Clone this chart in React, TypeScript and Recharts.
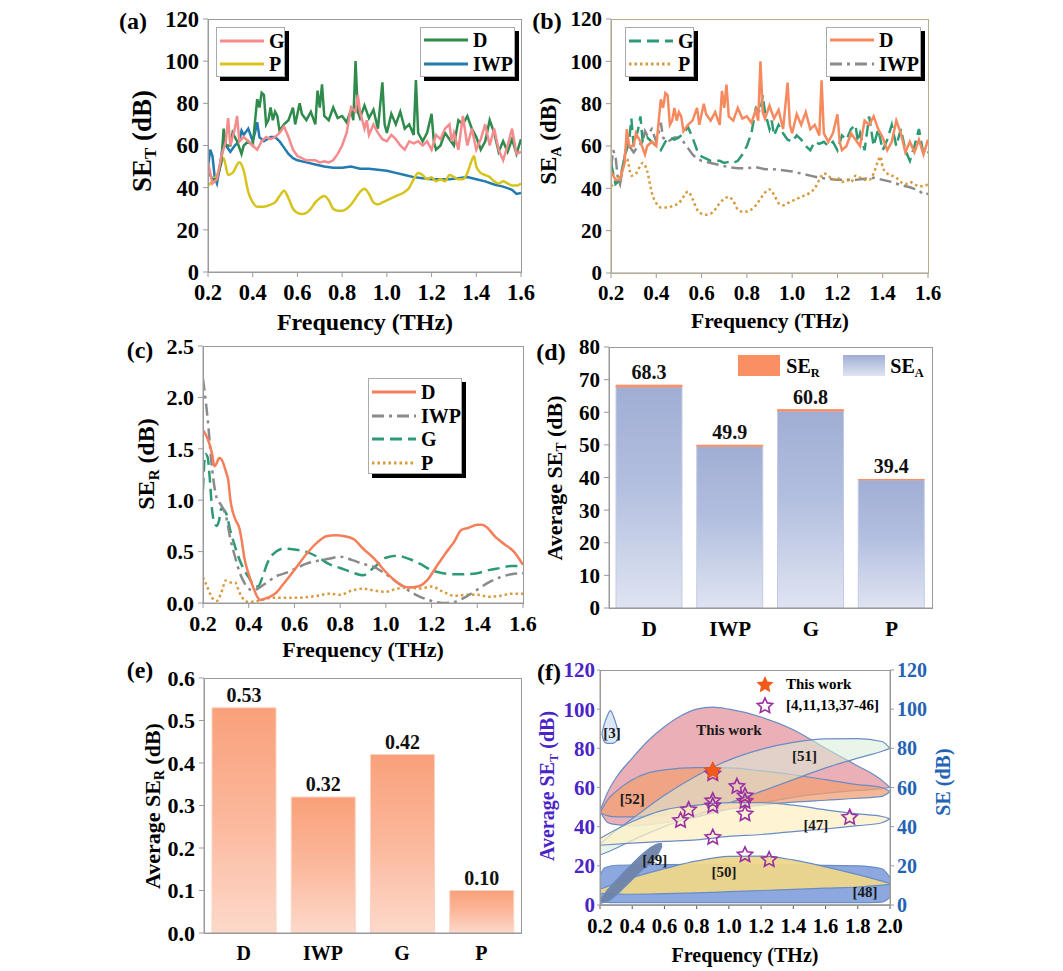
import React from 'react';
import {
  LineChart, Line, XAxis, YAxis, BarChart, Bar, LabelList,
  ComposedChart, Area, Scatter, ReferenceDot,
} from 'recharts';

const FONT = "'Liberation Serif', 'Times New Roman', Times, serif";

type P = [number, number];
type R = [number, number, number];

// ---------- (a)/(b) SE_T and SE_A spectra: [frequency THz, dB] ----------
const D_T: P[] = [[0.2,48],[0.22,44],[0.24,44],[0.26,52],[0.27,68],[0.28,60],[0.3,60],[0.31,66],[0.33,62],[0.35,56],[0.36,60],[0.38,62],[0.4,60],[0.42,82],[0.43,78],[0.44,85],[0.45,84],[0.46,70],[0.47,72],[0.48,78],[0.49,72],[0.5,76],[0.51,74],[0.52,67],[0.54,70],[0.56,72],[0.58,78],[0.59,70],[0.61,80],[0.62,75],[0.64,72],[0.66,76],[0.68,70],[0.69,86],[0.7,78],[0.71,89],[0.72,74],[0.74,72],[0.76,78],[0.78,73],[0.8,74],[0.82,71],[0.84,77],[0.85,72],[0.86,100],[0.87,76],[0.88,73],[0.9,79],[0.92,73],[0.94,77],[0.96,68],[0.98,90],[0.99,70],[1.0,66],[1.02,75],[1.04,70],[1.06,76],[1.08,68],[1.1,70],[1.12,65],[1.13,91],[1.14,66],[1.16,62],[1.18,66],[1.2,75],[1.21,62],[1.22,58],[1.24,60],[1.26,66],[1.28,63],[1.3,60],[1.32,72],[1.34,70],[1.36,74],[1.38,68],[1.4,64],[1.42,58],[1.44,62],[1.46,72],[1.48,66],[1.5,57],[1.52,62],[1.54,57],[1.56,63],[1.58,56],[1.6,63]];
const G_T: P[] = [[0.2,52],[0.22,42],[0.24,44],[0.26,55],[0.28,62],[0.29,73],[0.3,60],[0.32,68],[0.33,74],[0.34,62],[0.36,64],[0.38,62],[0.4,60],[0.42,58],[0.44,62],[0.46,64],[0.48,63],[0.5,64],[0.52,66],[0.54,69],[0.56,64],[0.58,58],[0.6,55],[0.62,54],[0.64,53],[0.66,53],[0.68,53],[0.7,52],[0.72,52.5],[0.74,52],[0.76,53],[0.78,56],[0.8,60],[0.82,66],[0.84,78],[0.86,76],[0.87,84],[0.88,76],[0.9,68],[0.91,72],[0.92,65],[0.94,70],[0.96,66],[0.98,63],[1.0,62],[1.02,65],[1.04,63],[1.06,60],[1.08,58],[1.1,62],[1.12,61],[1.14,62],[1.16,60],[1.18,62],[1.2,58],[1.22,65],[1.24,63],[1.26,68],[1.28,70],[1.29,62],[1.3,66],[1.32,58],[1.34,74],[1.36,60],[1.38,68],[1.4,58],[1.42,63],[1.44,70],[1.46,60],[1.48,68],[1.5,58],[1.52,53],[1.54,60],[1.56,68],[1.58,56],[1.6,57]];
const P_T: P[] = [[0.2,41],[0.22,43],[0.24,46],[0.27,54],[0.29,46],[0.31,47],[0.34,52],[0.36,48],[0.38,38],[0.4,33],[0.42,31],[0.45,31],[0.48,32],[0.5,33],[0.52,36],[0.54,38.5],[0.56,35],[0.58,30],[0.6,28],[0.62,27.5],[0.64,28],[0.66,30],[0.68,33],[0.7,35],[0.72,36],[0.74,34],[0.76,30],[0.78,29],[0.8,29],[0.82,30],[0.84,32],[0.86,35],[0.88,38],[0.9,39.5],[0.92,37],[0.94,33],[0.96,32],[0.98,33],[1.0,34],[1.04,36],[1.08,38],[1.1,40],[1.12,44],[1.14,47],[1.16,46],[1.18,44],[1.2,45],[1.22,43],[1.24,44],[1.26,43],[1.28,46],[1.3,45],[1.32,44],[1.34,44],[1.36,47],[1.38,53],[1.39,55],[1.4,50],[1.42,47],[1.44,46],[1.46,45],[1.48,43],[1.5,42],[1.52,43],[1.54,42],[1.56,41],[1.58,41],[1.6,42]];
const IWP_T: P[] = [[0.2,50],[0.21,58],[0.22,55],[0.23,45],[0.24,42],[0.25,48],[0.26,55],[0.27,62],[0.28,60],[0.3,57],[0.32,60],[0.34,62],[0.35,67],[0.36,65],[0.38,68],[0.4,62],[0.41,66],[0.42,71],[0.43,64],[0.45,62],[0.48,64],[0.5,64],[0.52,62],[0.54,59],[0.56,56],[0.58,54],[0.6,53],[0.64,52],[0.68,51],[0.72,50],[0.76,49.5],[0.8,49.5],[0.84,50],[0.88,49],[0.92,49],[0.96,48.5],[1.0,48],[1.04,47],[1.08,46],[1.12,45],[1.16,44.5],[1.2,44],[1.24,44],[1.28,44],[1.32,44.5],[1.36,45],[1.4,44],[1.44,43],[1.48,41.5],[1.52,40.5],[1.56,39],[1.58,37],[1.6,37.5]];

// ---------- (c) SE_R spectra ----------
const D_R: P[] = [[0.2,1.68],[0.22,1.6],[0.24,1.45],[0.25,1.33],[0.26,1.36],[0.27,1.41],[0.28,1.4],[0.3,1.28],[0.31,1.2],[0.32,1.0],[0.34,0.82],[0.36,0.72],[0.37,0.6],[0.38,0.45],[0.4,0.28],[0.42,0.15],[0.44,0.05],[0.45,0.03],[0.48,0.05],[0.5,0.07],[0.52,0.1],[0.55,0.18],[0.6,0.32],[0.65,0.47],[0.7,0.59],[0.74,0.65],[0.78,0.66],[0.82,0.65],[0.86,0.62],[0.9,0.53],[0.95,0.43],[1.0,0.3],[1.05,0.2],[1.1,0.15],[1.14,0.16],[1.18,0.22],[1.22,0.35],[1.26,0.48],[1.3,0.6],[1.33,0.71],[1.36,0.73],[1.4,0.76],[1.42,0.76],[1.44,0.74],[1.48,0.64],[1.52,0.57],[1.56,0.5],[1.6,0.37]];
const IWP_R: P[] = [[0.2,2.18],[0.22,1.8],[0.24,1.3],[0.26,1.02],[0.28,0.95],[0.3,0.85],[0.32,0.62],[0.34,0.45],[0.36,0.3],[0.38,0.2],[0.4,0.14],[0.42,0.12],[0.44,0.14],[0.48,0.2],[0.52,0.26],[0.56,0.29],[0.6,0.33],[0.65,0.38],[0.7,0.41],[0.75,0.43],[0.8,0.45],[0.85,0.42],[0.9,0.38],[0.95,0.35],[1.0,0.28],[1.05,0.2],[1.1,0.12],[1.15,0.06],[1.2,0.02],[1.25,0.0],[1.3,0.01],[1.35,0.06],[1.4,0.13],[1.45,0.2],[1.5,0.25],[1.55,0.28],[1.6,0.29]];
const G_R: P[] = [[0.2,1.1],[0.21,1.45],[0.22,1.42],[0.23,1.2],[0.24,0.9],[0.25,0.78],[0.26,0.75],[0.27,0.8],[0.28,0.92],[0.3,0.88],[0.32,0.7],[0.34,0.55],[0.36,0.42],[0.38,0.32],[0.4,0.25],[0.42,0.18],[0.44,0.16],[0.46,0.25],[0.48,0.38],[0.5,0.46],[0.52,0.5],[0.55,0.53],[0.6,0.52],[0.65,0.5],[0.7,0.45],[0.75,0.38],[0.8,0.34],[0.85,0.3],[0.9,0.27],[0.95,0.35],[1.0,0.44],[1.05,0.46],[1.1,0.43],[1.15,0.38],[1.2,0.32],[1.25,0.29],[1.3,0.28],[1.35,0.28],[1.4,0.29],[1.45,0.32],[1.5,0.34],[1.55,0.36],[1.6,0.36]];
const P_R: P[] = [[0.2,0.25],[0.22,0.15],[0.24,0.05],[0.26,0.02],[0.28,0.1],[0.3,0.22],[0.32,0.2],[0.34,0.2],[0.36,0.1],[0.38,0.03],[0.4,0.01],[0.44,0.02],[0.5,0.05],[0.6,0.05],[0.7,0.07],[0.75,0.09],[0.8,0.08],[0.85,0.12],[0.9,0.14],[0.95,0.12],[1.0,0.11],[1.05,0.14],[1.1,0.15],[1.15,0.14],[1.2,0.16],[1.25,0.11],[1.3,0.07],[1.35,0.08],[1.4,0.08],[1.45,0.06],[1.5,0.07],[1.55,0.09],[1.6,0.09]];

// ---------- (d)/(e) averages ----------
const CATS = ['D', 'IWP', 'G', 'P'];
const SET_AVG = [68.3, 49.9, 60.8, 39.4];
const SER_AVG = [0.53, 0.32, 0.42, 0.10];
const SEA_AVG = [67.77, 49.58, 60.38, 39.3];

// ---------- (f) comparison regions: [frequency, low, high] ----------
const REG_THIS: R[] = [[0.2,48,48],[0.25,42,58],[0.3,41,65],[0.4,40.5,75],[0.5,41,84],[0.6,42,91],[0.7,43.5,96.5],[0.8,45,100],[0.9,47,101],[1.0,49,100],[1.2,52,96],[1.4,55,89.5],[1.6,57,80],[1.8,58.5,71],[1.9,59,66.5],[1.96,59.5,63],[2.0,60,60]];
const REG_52: R[] = [[0.2,47,47],[0.25,45.5,54],[0.3,45,58],[0.4,45,64],[0.5,45.5,67.5],[0.6,46,69],[0.8,47.5,70.2],[1.0,49,70],[1.2,51,68.5],[1.4,52.5,66.5],[1.6,53.5,64],[1.8,54.5,61.5],[1.95,55.5,60],[2.0,58,58]];
const REG_51: R[] = [[0.2,25.5,31],[0.3,29,38],[0.4,33,44],[0.6,40,56],[0.8,46,66],[1.0,52,74],[1.2,58,79.5],[1.4,64,83],[1.6,70,84.8],[1.8,75,85],[1.95,78.5,83.5],[2.0,80,80]];
const REG_47: R[] = [[0.2,30.5,34],[0.4,31.6,42.6],[0.6,32.5,48.6],[0.8,33.3,51],[1.0,35,52.3],[1.2,36,52.3],[1.4,37.5,51],[1.6,38.8,48.6],[1.8,40.5,46.5],[1.95,42,45.2],[2.0,44,44]];
const REG_48: R[] = [[0.2,3,15],[0.23,1.5,19],[0.3,1.2,20.3],[0.6,1.2,20.6],[1.0,1.2,20.8],[1.4,1.2,20.5],[1.8,1.2,20],[1.95,1.5,18.5],[2.0,4,14]];
const REG_50: R[] = [[0.2,6,8],[0.4,5.5,14],[0.6,5.8,18.5],[0.8,6.2,22.5],[1.0,6.8,24.8],[1.2,7.4,25],[1.4,8,23],[1.6,8.6,19.5],[1.8,9.2,15.5],[2.0,10.5,11]];
const REG_49: R[] = [[0.2,0.8,2.5],[0.25,2,8],[0.3,5,12.5],[0.35,9,17],[0.4,13,21],[0.45,17,25],[0.5,20.5,28.5],[0.55,24.5,31],[0.585,30,31.5]];
const REG_3: R[] = [[0.212,87.5,87.5],[0.225,83.5,92],[0.245,82.5,96.5],[0.265,82.5,99.3],[0.285,82.7,96],[0.305,84,91],[0.318,87.5,87.5]];
const STARS_OTHERS: P[] = [[0.7,43.1],[0.75,48.6],[0.9,67],[0.9,53.2],[0.9,50.6],[0.9,34.5],[1.05,60.5],[1.1,55.7],[1.1,52.9],[1.1,46.5],[1.1,25.6],[1.25,23.1],[1.75,44.7]];
const STAR_THIS: P[] = [[0.9,68.5]];
const REGION_LABELS: { t: string; f: number; v: number }[] = [
  { t: 'This work', f: 1.0, v: 89.5 }, { t: '[3]', f: 0.275, v: 88 }, { t: '[52]', f: 0.4, v: 54.5 },
  { t: '[51]', f: 1.47, v: 76 }, { t: '[47]', f: 1.54, v: 41 }, { t: '[49]', f: 0.54, v: 23 },
  { t: '[50]', f: 0.97, v: 17 }, { t: '[48]', f: 1.845, v: 7 },
];

const F_TICKS = [0.2, 0.4, 0.6, 0.8, 1.0, 1.2, 1.4, 1.6];
const F2_TICKS = [0.2, 0.4, 0.6, 0.8, 1.0, 1.2, 1.4, 1.6, 1.8, 2.0];
const SE_TICKS = [0, 20, 40, 60, 80, 100, 120];
const SER_TICKS = [0, 0.5, 1.0, 1.5, 2.0, 2.5];
const AVG_T_TICKS = [0, 10, 20, 30, 40, 50, 60, 70, 80];
const AVG_R_TICKS = [0, 0.1, 0.2, 0.3, 0.4, 0.5, 0.6];

const pts = (a: P[]) => a.map(([f, v]) => ({ f, v }));
const rng = (a: R[]) => a.map(([f, lo, hi]) => ({ f, r: [lo, hi] }));

// ---------- helpers ----------
const Txt = ({ x, y, size, children, rot = false, color = '#000' }: any) => (
  <div style={{ position: 'absolute', left: x, top: y, transform: `translate(-50%, -50%)${rot ? ' rotate(-90deg)' : ''}`, fontSize: size, fontWeight: 700, color, whiteSpace: 'nowrap', lineHeight: 1, fontFamily: FONT }}>{children}</div>
);
const Sub = ({ c }: any) => <span style={{ fontSize: '0.62em', position: 'relative', top: '0.32em' }}>{c}</span>;
const Frame = ({ L, T, W, H, color = '#9a9a9a' }: any) => (
  <div style={{ position: 'absolute', left: L, top: T, width: W + 1, height: H + 1, border: `1px solid ${color}`, boxSizing: 'border-box', pointerEvents: 'none' }} />
);
const LegendBox = ({ x, y, w, h, rows, rowY, lineW = 44 }: any) => (
  <div style={{ position: 'absolute', left: x, top: y, width: w, height: h, border: '1px solid #aaa', background: '#fff', boxShadow: '4px 4px 0 #000', boxSizing: 'border-box' }}>
    {rows.map((r: any, i: number) => (
      <div key={i} style={{ position: 'absolute', left: 3, top: rowY[i], transform: 'translateY(-50%)', display: 'flex', alignItems: 'center', gap: 5 }}>
        <svg width={lineW} height={8}><line x1={0} y1={4} x2={lineW} y2={4} stroke={r.color} strokeWidth={3} strokeDasharray={r.dash} /></svg>
        <span style={{ fontSize: 20, fontWeight: 700, fontFamily: FONT, lineHeight: 1 }}>{r.name}</span>
      </div>
    ))}
  </div>
);

const tickStyle = (size: number, fill = '#000') => ({ fill, fontSize: size, fontWeight: 700, fontFamily: FONT });
const AX = { stroke: '#9a9a9a' };

function LinePanel({ L, T, W, H, yMax, yTicks, yFmt, tick, series }: any) {
  const YW = 90, MT = 15, MR = 20, XH = 50;
  return (
    <div style={{ position: 'absolute', left: L - YW, top: T - MT }}>
      <LineChart width={W + YW + MR} height={H + MT + XH} margin={{ top: MT, right: MR, left: 0, bottom: 0 }}>
        <XAxis type="number" dataKey="f" domain={[0.2, 1.6]} ticks={F_TICKS} interval={0} allowDataOverflow
          tickFormatter={(v: number) => v.toFixed(1)} height={XH} tickSize={5} tickMargin={7}
          axisLine={AX} tickLine={AX} tick={tickStyle(tick)} />
        <YAxis type="number" domain={[0, yMax]} ticks={yTicks} interval={0} allowDataOverflow width={YW}
          tickFormatter={yFmt} tickSize={5} tickMargin={4} axisLine={AX} tickLine={AX} tick={tickStyle(tick)} />
        {series.map((s: any) => (
          <Line key={s.name} data={s.data} dataKey="v" type={s.type} stroke={s.color} strokeWidth={2.5}
            strokeDasharray={s.dash} dot={false} activeDot={false} isAnimationActive={false} />
        ))}
      </LineChart>
    </div>
  );
}

function BarPanel({ L, T, W, H, data, yMax, yTicks, yFmt, barSize, children, tick, catTick }: any) {
  const YW = 70, MT = 15, MR = 10, XH = 45;
  return (
    <div style={{ position: 'absolute', left: L - YW, top: T - MT }}>
      <BarChart width={W + YW + MR} height={H + MT + XH} margin={{ top: MT, right: MR, left: 0, bottom: 0 }} data={data} barSize={barSize}>
        <defs>
          <linearGradient id="gBlue" x1="0" y1="0" x2="0" y2="1">
            <stop offset="0%" stopColor="#a0aed5" />
            <stop offset="45%" stopColor="#b3bfdf" />
            <stop offset="100%" stopColor="#dfe4f2" />
          </linearGradient>
          <linearGradient id="gOrange" x1="0" y1="0" x2="0" y2="1">
            <stop offset="0%" stopColor="#f9a07a" />
            <stop offset="50%" stopColor="#fbb89c" />
            <stop offset="100%" stopColor="#fdd9cb" />
          </linearGradient>
        </defs>
        <XAxis dataKey="c" tickLine={false} axisLine={AX} height={XH} tickMargin={7} tick={tickStyle(catTick)} interval={0} />
        <YAxis type="number" domain={[0, yMax]} ticks={yTicks} interval={0} width={YW} tickFormatter={yFmt}
          tickSize={5} tickMargin={4} axisLine={AX} tickLine={AX} tick={tickStyle(tick)} />
        {children}
      </BarChart>
    </div>
  );
}

const starPts = (cx: number, cy: number, R: number) => {
  const out: string[] = [];
  for (let i = 0; i < 10; i++) {
    const r = i % 2 === 0 ? R : R * 0.48;
    const a = -Math.PI / 2 + (i * Math.PI) / 5;
    out.push(`${(cx + r * Math.cos(a)).toFixed(2)},${(cy + r * Math.sin(a)).toFixed(2)}`);
  }
  return out.join(' ');
};
const OpenStar = (p: any) => <polygon points={starPts(p.cx, p.cy, 8)} fill="none" stroke="#9a2ea2" strokeWidth={1.6} />;
const FilledStar = (p: any) => <polygon points={starPts(p.cx, p.cy, 9)} fill="#f25a1c" stroke="#e04a10" strokeWidth={0.8} />;

const REGIONS = [
  { id: 'this', data: REG_THIS, fill: '#e8a2aa', op: 0.85 },
  { id: '52', data: REG_52, fill: '#f0a074', op: 0.75 },
  { id: '51', data: REG_51, fill: '#d8ecd8', op: 0.55 },
  { id: '47', data: REG_47, fill: '#fdf0c6', op: 0.75 },
  { id: '48', data: REG_48, fill: '#7f9edb', op: 0.9 },
  { id: '50', data: REG_50, fill: '#eed68a', op: 0.95 },
  { id: '49', data: REG_49, fill: '#6f83a8', op: 0.95 },
  { id: '3', data: REG_3, fill: '#dde8f6', op: 1 },
];

const PURPLE = '#4a24c6';
const BLUE = '#2463b4';

function PanelF() {
  const L = 600, T = 670, W = 290, H = 235, YW = 60, YWR = 60, MT = 15, XH = 45;
  return (
    <div style={{ position: 'absolute', left: L - YW, top: T - MT }}>
      <ComposedChart width={W + YW + YWR} height={H + MT + XH} margin={{ top: MT, right: 0, left: 0, bottom: 0 }}>
        <XAxis type="number" dataKey="f" domain={[0.2, 2.0]} ticks={F2_TICKS} interval={0} allowDataOverflow
          tickFormatter={(v: number) => v.toFixed(1)} height={XH} tickSize={4} tickMargin={9}
          axisLine={{ stroke: '#555' }} tickLine={{ stroke: '#555' }} tick={tickStyle(20.5)} />
        <YAxis yAxisId="l" type="number" domain={[0, 120]} ticks={SE_TICKS} interval={0} width={YW} allowDataOverflow
          tickSize={3} tickMargin={2} axisLine={AX} tickLine={AX} tick={tickStyle(21, PURPLE)} />
        <YAxis yAxisId="r" orientation="right" type="number" domain={[0, 120]} ticks={SE_TICKS} interval={0} width={YWR} allowDataOverflow
          tickSize={4} tickMargin={3} axisLine={AX} tickLine={AX} tick={tickStyle(20, BLUE)} />
        {REGIONS.map((g) => (
          <Area key={g.id} yAxisId="l" data={rng(g.data)} dataKey="r" type="monotone" fill={g.fill} fillOpacity={g.op}
            stroke="#6a8cc4" strokeWidth={1.2} dot={false} activeDot={false} isAnimationActive={false} />
        ))}
        {REGION_LABELS.map((l) => (
          <ReferenceDot key={l.t} yAxisId="l" x={l.f} y={l.v} r={1} fill="none" stroke="none"
            label={{ value: l.t, position: 'center', fill: '#1a1a1a', fontSize: 15, fontWeight: 700, fontFamily: FONT }} />
        ))}
        <Scatter yAxisId="r" data={pts(STARS_OTHERS)} dataKey="v" shape={OpenStar} isAnimationActive={false} />
        <Scatter yAxisId="r" data={pts(STAR_THIS)} dataKey="v" shape={FilledStar} isAnimationActive={false} />
      </ComposedChart>
    </div>
  );
}

export default function App() {
  const dData = CATS.map((c, i) => ({ c, a: SEA_AVG[i], r: SER_AVG[i], t: SET_AVG[i] }));
  const eData = CATS.map((c, i) => ({ c, r: SER_AVG[i] }));
  const fmt0 = (v: number) => String(v);
  const fmt1 = (v: number) => v.toFixed(1);

  return (
    <div style={{ position: 'absolute', left: 0, top: 0, width: 1063, height: 971, background: '#fff', fontFamily: FONT, overflow: 'hidden' }}>
      {/* (a) */}
      <LinePanel L={208} T={19} W={313} H={253} yMax={120} yTicks={SE_TICKS} yFmt={fmt0} tick={22.5}
        series={[
          { name: 'IWP', data: pts(IWP_T), color: '#237bb0', type: 'linear' },
          { name: 'P', data: pts(P_T), color: '#d6c41c', type: 'monotone' },
          { name: 'D', data: pts(D_T), color: '#2e8b4c', type: 'linear' },
          { name: 'G', data: pts(G_T), color: '#f58b8d', type: 'linear' },
        ]} />
      <Frame L={208} T={19} W={313} H={253} />
      <LegendBox x={216} y={27} w={69} h={50} rowY={[13, 36]}
        rows={[{ name: 'G', color: '#f58b8d' }, { name: 'P', color: '#d6c41c' }]} />
      <LegendBox x={420} y={27} w={95} h={50} rowY={[12, 36]}
        rows={[{ name: 'D', color: '#2e8b4c' }, { name: 'IWP', color: '#237bb0' }]} />
      <Txt x={133} y={21} size={24}>(a)</Txt>
      <Txt x={365} y={322} size={24}>Frequency (THz)</Txt>
      <Txt x={142} y={141} size={27} rot>SE<Sub c="T" /> (dB)</Txt>

      {/* (b) */}
      <LinePanel L={611} T={19} W={317} H={254} yMax={120} yTicks={SE_TICKS} yFmt={fmt0} tick={21}
        series={[
          { name: 'IWP', data: pts(IWP_T), color: '#8a8a8a', type: 'linear', dash: '12 5 3 5' },
          { name: 'P', data: pts(P_T), color: '#d89a3c', type: 'monotone', dash: '2.5 3' },
          { name: 'G', data: pts(G_T), color: '#2e9a73', type: 'linear', dash: '12 6' },
          { name: 'D', data: pts(D_T), color: '#f7895f', type: 'linear' },
        ]} />
      <Frame L={611} T={19} W={317} H={254} color="#b5ad8a" />
      <LegendBox x={625} y={27} w={69} h={50} rowY={[13, 36]}
        rows={[{ name: 'G', color: '#2e9a73', dash: '12 6' }, { name: 'P', color: '#d89a3c', dash: '2.5 3' }]} />
      <LegendBox x={826} y={27} w={95} h={50} rowY={[12, 36]}
        rows={[{ name: 'D', color: '#f7895f' }, { name: 'IWP', color: '#8a8a8a', dash: '12 5 3 5' }]} />
      <Txt x={547} y={21} size={24}>(b)</Txt>
      <Txt x={770} y={322} size={21.5}>Frequency (THz)</Txt>
      <Txt x={548} y={141} size={23} rot>SE<Sub c="A" /> (dB)</Txt>

      {/* (c) */}
      <LinePanel L={203} T={346} W={320} H={257} yMax={2.5} yTicks={SER_TICKS} yFmt={fmt1} tick={22}
        series={[
          { name: 'P', data: pts(P_R), color: '#d89a3c', type: 'monotone', dash: '2.5 3' },
          { name: 'G', data: pts(G_R), color: '#2e9a73', type: 'monotone', dash: '12 6' },
          { name: 'IWP', data: pts(IWP_R), color: '#8a8a8a', type: 'monotone', dash: '12 5 3 5' },
          { name: 'D', data: pts(D_R), color: '#f47f5a', type: 'monotone' },
        ]} />
      <Frame L={203} T={346} W={320} H={257} />
      <LegendBox x={368} y={378} w={94} h={96} rowY={[13, 37, 60, 84]}
        rows={[
          { name: 'D', color: '#f47f5a' }, { name: 'IWP', color: '#8a8a8a', dash: '12 5 3 5' },
          { name: 'G', color: '#2e9a73', dash: '12 6' }, { name: 'P', color: '#d89a3c', dash: '2.5 3' },
        ]} />
      <Txt x={140} y={350} size={24}>(c)</Txt>
      <Txt x={363} y={650} size={22}>Frequency (THz)</Txt>
      <Txt x={146} y={464} size={24} rot>SE<Sub c="R" /> (dB)</Txt>

      {/* (d) */}
      <BarPanel L={609} T={347} W={323} H={261} data={dData} yMax={80} yTicks={AVG_T_TICKS} yFmt={fmt0} barSize={66} tick={21} catTick={21}>
        <Bar dataKey="a" stackId="s" fill="url(#gBlue)" stroke="#c3cbe4" strokeWidth={1} isAnimationActive={false} />
        <Bar dataKey="r" stackId="s" fill="#f98f62" stroke="#f98f62" strokeWidth={1} isAnimationActive={false}>
          <LabelList dataKey="t" position="top" offset={6} formatter={(v: any) => Number(v).toFixed(1)}
            style={{ fill: '#111', fontSize: 20, fontWeight: 700, fontFamily: FONT }} />
        </Bar>
      </BarPanel>
      <Frame L={609} T={347} W={323} H={261} />
      <div style={{ position: 'absolute', left: 738, top: 355, width: 42, height: 21, background: '#f98f62' }} />
      <Txt x={803} y={366} size={20}>SE<Sub c="R" /></Txt>
      <div style={{ position: 'absolute', left: 843, top: 355, width: 42, height: 21, background: 'linear-gradient(#a0aed5, #dfe4f2)' }} />
      <Txt x={907} y={366} size={20}>SE<Sub c="A" /></Txt>
      <Txt x={551} y={352} size={24}>(d)</Txt>
      <Txt x={555} y={478} size={22} rot>Average SE<Sub c="T" /> (dB)</Txt>

      {/* (e) */}
      <BarPanel L={204} T={678} W={317} H={255} data={eData} yMax={0.6} yTicks={AVG_R_TICKS} yFmt={fmt1} barSize={64} tick={22} catTick={20}>
        <Bar dataKey="r" fill="url(#gOrange)" stroke="#fcd3c2" strokeWidth={1} isAnimationActive={false}>
          <LabelList dataKey="r" position="top" offset={6} formatter={(v: any) => Number(v).toFixed(2)}
            style={{ fill: '#111', fontSize: 20, fontWeight: 700, fontFamily: FONT }} />
        </Bar>
      </BarPanel>
      <Frame L={204} T={678} W={317} H={255} />
      <Txt x={140} y={670} size={24}>(e)</Txt>
      <Txt x={153} y={806} size={22} rot>Average SE<Sub c="R" /> (dB)</Txt>

      {/* (f) */}
      <PanelF />
      <Frame L={600} T={670} W={290} H={235} />
      <svg style={{ position: 'absolute', left: 754, top: 674 }} width={22} height={44}>
        <polygon points={starPts(11, 11, 9)} fill="#f25a1c" />
        <polygon points={starPts(11, 32, 8)} fill="none" stroke="#9a2ea2" strokeWidth={1.6} />
      </svg>
      <div style={{ position: 'absolute', left: 786, top: 677, fontSize: 15, fontWeight: 700, lineHeight: 1, fontFamily: FONT }}>This work</div>
      <div style={{ position: 'absolute', left: 786, top: 698, fontSize: 15, fontWeight: 700, lineHeight: 1, fontFamily: FONT }}>[4,11,13,37-46]</div>
      <Txt x={549} y={672} size={24}>(f)</Txt>
      <Txt x={745} y={955} size={20}>Frequency (THz)</Txt>
      <Txt x={547} y={786} size={20} rot color={PURPLE}>Average SE<Sub c="T" /> (dB)</Txt>
      <Txt x={943} y={782} size={20} rot color={BLUE}>SE (dB)</Txt>
    </div>
  );
}
